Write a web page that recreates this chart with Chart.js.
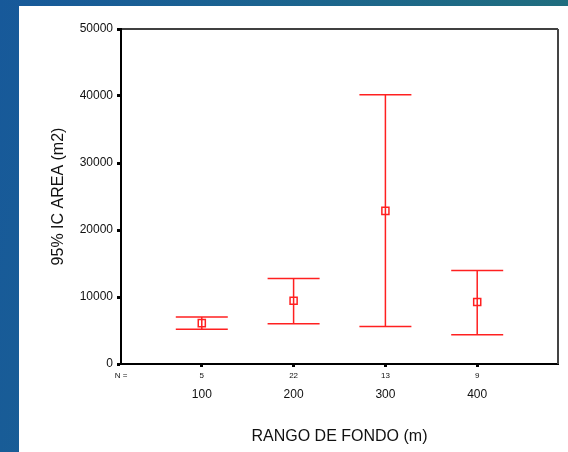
<!DOCTYPE html>
<html>
<head>
<meta charset="utf-8">
<script src="https://cdn.jsdelivr.net/npm/chart.js@4"></script>
<style>
  html, body { margin: 0; padding: 0; }
  body {
    width: 568px; height: 452px; overflow: hidden; position: relative;
    background: linear-gradient(100deg, #17599a 0%, #1b6390 40%, #21707a 100%);
  }
  #panel {
    position: absolute; left: 19px; top: 6px; width: 549px; height: 446px;
    background: #ffffff;
  }
  canvas { display: block; }
</style>
</head>
<body>
<div id="panel"><canvas id="c" width="549" height="446"></canvas></div>
<script>
// ---- data ----
const categories = [100, 200, 300, 400];      // RANGO DE FONDO (m)
const nValues    = [5, 22, 13, 9];            // N =
const means      = [6100, 9450, 22850, 9250]; // mean AREA (m2)
const lower95    = [5200, 6000, 5600, 4350];  // lower 95% CI
const upper95    = [7000, 12750, 40200, 13950]; // upper 95% CI
const yTickValues = [0, 10000, 20000, 30000, 40000, 50000];

const RED = '#ff2020';
const FONT = 'Arial, "Liberation Sans", sans-serif';

const errorBars = {
  id: 'errorBars',
  afterDatasetsDraw(chart) {
    const {ctx, scales: {x, y}} = chart;
    const half = 26;
    ctx.save();
    ctx.strokeStyle = RED;
    ctx.lineWidth = 1.5;
    categories.forEach((c, i) => {
      const px = x.getPixelForValue(c);
      const yl = y.getPixelForValue(lower95[i]);
      const yh = y.getPixelForValue(upper95[i]);
      ctx.beginPath();
      ctx.moveTo(px, yl); ctx.lineTo(px, yh);
      ctx.moveTo(px - half, yl); ctx.lineTo(px + half, yl);
      ctx.moveTo(px - half, yh); ctx.lineTo(px + half, yh);
      ctx.stroke();
    });
    ctx.restore();
  },
  afterDraw(chart) {
    const {ctx, chartArea: a, scales: {x}} = chart;
    ctx.save();
    // frame top/right
    ctx.strokeStyle = '#000';
    ctx.lineWidth = 1.5;
    ctx.beginPath();
    ctx.moveTo(a.left, a.top); ctx.lineTo(a.right, a.top);
    ctx.stroke();
    ctx.strokeStyle = '#444';
    ctx.lineWidth = 2;
    ctx.beginPath();
    ctx.moveTo(a.right, a.top); ctx.lineTo(a.right, a.bottom);
    ctx.stroke();
    // N row
    ctx.fillStyle = '#111';
    ctx.textAlign = 'center';
    ctx.textBaseline = 'middle';
    ctx.font = '8px ' + FONT;
    ctx.fillText('N =', a.left, a.bottom + 12);
    categories.forEach((c, i) => {
      ctx.fillText(String(nValues[i]), x.getPixelForValue(c), a.bottom + 12);
    });
    // category labels
    ctx.font = '12px ' + FONT;
    categories.forEach((c) => {
      ctx.fillText(String(c), x.getPixelForValue(c), a.bottom + 31);
    });
    ctx.restore();
  }
};

new Chart(document.getElementById('c'), {
  type: 'scatter',
  data: {
    datasets: [{
      data: categories.map((c, i) => ({x: c, y: means[i]})),
      pointStyle: 'rect',
      pointRadius: 5,
      pointHoverRadius: 5,
      borderColor: RED,
      borderWidth: 1.5,
      backgroundColor: 'rgba(255,255,255,0)'
    }]
  },
  options: {
    responsive: false,
    animation: false,
    events: [],
    layout: { padding: { top: 23, right: 10, left: 0, bottom: 0 } },
    plugins: { legend: { display: false }, tooltip: { enabled: false } },
    scales: {
      x: {
        type: 'linear',
        min: 12, max: 488,
        afterBuildTicks(scale) { scale.ticks = categories.map(v => ({value: v})); },
        afterFit(scale) { scale.height = 88; },
        ticks: { display: false },
        grid: { drawOnChartArea: false, drawTicks: true, tickLength: 3, tickWidth: 3, tickColor: '#000' },
        border: { display: true, color: '#000', width: 2 },
        title: {
          display: true, text: 'RANGO DE FONDO (m)', color: '#111',
          font: { family: FONT, size: 16 }, padding: { top: 0, bottom: 6 }
        }
      },
      y: {
        min: 0, max: 50000,
        afterBuildTicks(scale) { scale.ticks = yTickValues.map(v => ({value: v})); },
        afterFit(scale) { scale.width = 102; },
        ticks: { color: '#111', font: { family: FONT, size: 12 }, padding: 4,
                 callback: (v) => String(v) },
        grid: { drawOnChartArea: false, drawTicks: true, tickLength: 4, tickWidth: 3, tickColor: '#000' },
        border: { display: true, color: '#000', width: 2 },
        title: {
          display: true, text: '95% IC AREA (m2)', color: '#111',
          font: { family: FONT, size: 16 }, padding: { top: 30, bottom: 0 }
        }
      }
    }
  },
  plugins: [errorBars]
});
</script>
</body>
</html>
